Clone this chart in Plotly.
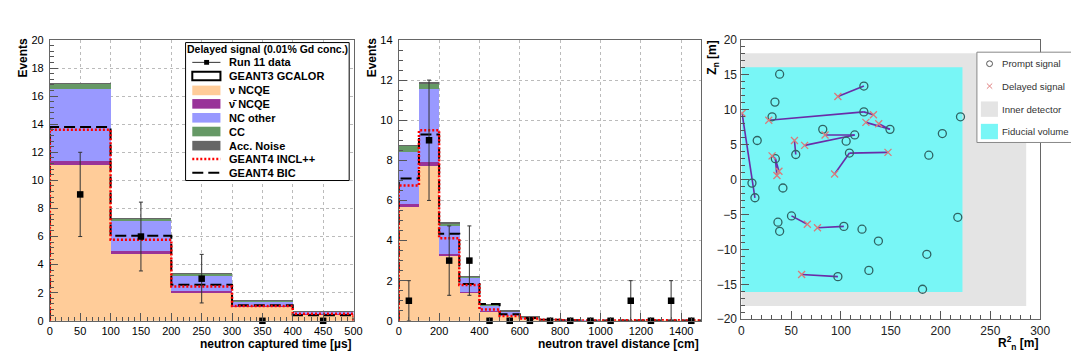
import plotly.graph_objects as go

W, H = 1079, 356
FONT = "Liberation Sans, Arial, sans-serif"

# ---------------- Panel 1 : neutron captured time ----------------
time_edges = [0, 100, 200, 300, 400, 500]
time_centers = [50, 150, 250, 350, 450]
t_nu_ncqe = [11.13, 4.76, 2.03, 1.00, 0.42]
t_nubar_ncqe = [0.23, 0.19, 0.07, 0.04, 0.03]
t_nc_other = [5.13, 2.14, 1.16, 0.37, 0.18]
t_cc = [0.43, 0.21, 0.12, 0.05, 0.03]
t_acc = [0.01, 0.01, 0.01, 0.01, 0.01]
t_incl = [13.60, 5.77, 2.45, 1.05, 0.50]
t_bic = [13.80, 6.05, 2.57, 1.10, 0.40]
t_data = [9, 6, 3, 0, 0]
t_err = [3.0, 2.45, 1.73, 0, 0]

# ---------------- Panel 2 : neutron travel distance ----------------
dist_edges = [0, 100, 200, 300, 400, 500, 600, 700, 800, 900, 1000, 1100, 1200, 1300, 1400, 1500]
dist_centers = [50, 150, 250, 350, 450, 550, 650, 750, 850, 950, 1050, 1150, 1250, 1350, 1450]
d_nu_ncqe = [5.72, 7.74, 3.27, 1.39, 0.46, 0.24, 0.10, 0.04, 0.02, 0.01, 0.01, 0.01, 0.01, 0.01, 0.01]
d_nubar_ncqe = [0.08, 0.16, 0.07, 0.03, 0.02, 0.01, 0.01, 0.00, 0.00, 0.00, 0.00, 0.00, 0.00, 0.00, 0.00]
d_nc_other = [2.61, 3.64, 1.40, 0.76, 0.30, 0.21, 0.07, 0.02, 0.01, 0.01, 0.00, 0.00, 0.00, 0.00, 0.00]
d_cc = [0.34, 0.31, 0.13, 0.04, 0.02, 0.02, 0.01, 0.00, 0.00, 0.00, 0.00, 0.00, 0.00, 0.00, 0.00]
d_acc = [0.01, 0.01, 0.01, 0.01, 0.01, 0.02, 0.01, 0.01, 0.00, 0.00, 0.00, 0.00, 0.00, 0.00, 0.00]
d_incl = [6.74, 9.50, 4.12, 1.79, 0.56, 0.24, 0.12, 0.05, 0.03, 0.02, 0.02, 0.03, 0.03, 0.03, 0.02]
d_bic = [7.09, 9.29, 4.34, 1.83, 0.84, 0.32, 0.14, 0.05, 0.03, 0.02, 0.01, 0.02, 0.02, 0.02, 0.01]
d_data = [1, 9, 3, 3, 0, 0, 0, 0, 0, 0, 0, 1, 0, 1, 0]
d_err = [1.0, 3.0, 1.73, 1.73, 0, 0, 0, 0, 0, 0, 0, 1.0, 0, 1.0, 0]

# ---------------- Panel 3 : event display ----------------
inner_detector = [286.0, 18.1]   # R^2 max, |Z| max
fiducial_volume = [222.0, 16.1]
prompt_r2 = [38.4, 123.0, 33.7, 30.8, 123.0, 220.0, 81.7, 113.8, 149.2, 201.8,
             15.9, 105.2, 54.6, 108.5, 188.2, 34.1, 10.6, 41.7, 13.6, 50.3,
             36.7, 38.4, 102.9, 121.1, 137.6, 217.3, 186.2, 128.0, 96.9, 181.9]
prompt_z = [15.1, 13.4, 11.1, 9.0, 9.7, 9.0, 7.2, 6.4, 7.2, 6.6,
            5.6, 5.5, 3.6, 3.8, 3.5, 3.0, -0.5, -1.2, -2.6, -5.2,
            -6.1, -7.4, -6.7, -7.1, -8.8, -5.4, -10.7, -13.0, -13.9, -15.7]
delayed_r2 = [96.9, 27.5, 132.6, 125.0, 137.9, 0.7, 84.0, 63.5, 53.3, 147.2,
              93.6, 30.8, 37.7, 35.7, 66.2, 76.4, 60.5]
delayed_z = [11.9, 8.5, 9.3, 8.2, 8.0, 9.5, 6.4, 4.9, 5.6, 3.9,
             0.8, 3.4, 1.2, 0.6, -6.4, -6.9, -13.6]
delayed_parent = [1, 4, 4, 8, 8, 18, 7, 7, 12, 13, 13, 15, 15, 15, 19, 22, 28]

C_NU = "#ffcc99"
C_NUBAR = "#993399"
C_NC = "#9999ff"
C_CC = "#669966"
C_ACC = "#666666"
C_CYAN = "#78f6f6"
C_GRAY = "#e4e4e4"


def px(x):
    return x / W


def py(y):
    return 1 - y / H


def step(edges, vals):
    xs = [edges[0]] + list(edges) + [edges[-1]]
    ys = [0] + list(vals) + [vals[-1], 0]
    return xs, ys


fig = go.Figure()

for (xa, ya, centers, edges, comps, incl, bic, data, err) in [
    ("x", "y", time_centers, time_edges,
     [t_nu_ncqe, t_nubar_ncqe, t_nc_other, t_cc, t_acc], t_incl, t_bic, t_data, t_err),
    ("x2", "y2", dist_centers, dist_edges,
     [d_nu_ncqe, d_nubar_ncqe, d_nc_other, d_cc, d_acc], d_incl, d_bic, d_data, d_err),
]:
    for vals, col in zip(comps, [C_NU, C_NUBAR, C_NC, C_CC, C_ACC]):
        fig.add_trace(go.Bar(x=centers, y=vals, width=100, marker=dict(color=col, line=dict(width=0)),
                             xaxis=xa, yaxis=ya, showlegend=False))
    sx, sy = step(edges, bic)
    fig.add_trace(go.Scatter(x=sx, y=sy, mode="lines", line_shape="hv",
                             line=dict(color="black", width=2, dash="11px,5px"),
                             xaxis=xa, yaxis=ya, showlegend=False))
    sx, sy = step(edges, incl)
    fig.add_trace(go.Scatter(x=sx, y=sy, mode="lines", line_shape="hv",
                             line=dict(color="#ff0000", width=2.5, dash="2px,2px"),
                             xaxis=xa, yaxis=ya, showlegend=False))
    fig.add_trace(go.Scatter(x=centers, y=data, mode="markers",
                             marker=dict(symbol="square", size=6.5, color="black"),
                             error_y=dict(type="data", array=err, visible=True, thickness=1,
                                          width=2, color="#333333"),
                             cliponaxis=False, xaxis=xa, yaxis=ya, showlegend=False))

# panel 3 traces
lx, ly = [], []
for r2, z, p in zip(delayed_r2, delayed_z, delayed_parent):
    lx += [prompt_r2[p], r2, None]
    ly += [prompt_z[p], z, None]
fig.add_trace(go.Scatter(x=lx, y=ly, mode="lines", line=dict(color="#6a2ca8", width=1.6),
                         xaxis="x3", yaxis="y3", showlegend=False))
fig.add_trace(go.Scatter(x=prompt_r2, y=prompt_z, mode="markers",
                         marker=dict(symbol="circle-open", size=8, color="#2f6464",
                                     line=dict(width=1.3, color="#2f6464")),
                         xaxis="x3", yaxis="y3", showlegend=False))
fig.add_trace(go.Scatter(x=delayed_r2, y=delayed_z, mode="markers",
                         marker=dict(symbol="x-thin-open", size=7, color="#d97b7b",
                                     line=dict(width=1.3, color="#d97b7b")),
                         xaxis="x3", yaxis="y3", showlegend=False))

shapes = [
    dict(type="rect", xref="x3", yref="y3", x0=0, x1=inner_detector[0],
         y0=-inner_detector[1], y1=inner_detector[1], fillcolor=C_GRAY, line_width=0, layer="below"),
    dict(type="rect", xref="x3", yref="y3", x0=0, x1=fiducial_volume[0],
         y0=-fiducial_volume[1], y1=fiducial_volume[1], fillcolor=C_CYAN, line_width=0, layer="below"),
]
annotations = []

# ---------------- axes ----------------
tickfont = dict(family=FONT, size=11, color="black")
common = dict(showline=True, linecolor="#666666", linewidth=1, mirror=True,
              ticks="inside", ticklen=8, tickcolor="#555555", tickfont=tickfont,
              zeroline=False)
grid = dict(showgrid=True, gridcolor="#bbbbbb", griddash="dot", gridwidth=1)
f3 = dict(family=FONT, size=12, color="#222")

ydom = [py(318.3), py(26)]
layout = dict(
    xaxis=dict(domain=[px(39.3), px(346.7)], range=[0, 500], dtick=50, anchor="y",
               minor=dict(ticks="inside", ticklen=4, dtick=10, tickcolor="#555555"), **common, **grid),
    yaxis=dict(domain=ydom, range=[0, 20], dtick=2, anchor="x", ticklabelstandoff=3,
               minor=dict(ticks="inside", ticklen=4, dtick=0.4, tickcolor="#555555"), **common, **grid),
    xaxis2=dict(domain=[px(392.5), px(698.8)], range=[0, 1500], dtick=200, anchor="y2",
                minor=dict(ticks="inside", ticklen=4, dtick=50, tickcolor="#555555"), **common, **grid),
    yaxis2=dict(domain=ydom, range=[0, 14], dtick=2, anchor="x2", ticklabelstandoff=3,
                minor=dict(ticks="inside", ticklen=4, dtick=0.5, tickcolor="#555555"), **common, **grid),
    xaxis3=dict(domain=[px(739.3), px(1041.7)], range=[0, 300], dtick=50, anchor="y3",
                minor=dict(ticks="inside", ticklen=4, dtick=10, tickcolor="#555555"),
                showgrid=False, **{**common, "tickfont": f3}),
    yaxis3=dict(domain=[py(316.7), py(26)], range=[-20, 20], dtick=5, anchor="x3", ticklabelstandoff=1,
                minor=dict(ticks="inside", ticklen=4, dtick=1, tickcolor="#555555"),
                showgrid=False, **{**common, "tickfont": f3}),
)

# axis titles
def ann(text, x, y, size=12, xanchor="center", yanchor="middle", angle=0, color="black"):
    annotations.append(dict(text=text, x=px(x), y=py(y), xref="paper", yref="paper",
                            xanchor=xanchor, yanchor=yanchor, textangle=angle, showarrow=False,
                            font=dict(family=FONT, size=size, color=color)))

ann("<b>Events</b>", 12.5, 44, size=12, angle=-90)
ann("<b>Events</b>", 365.5, 44, size=12, angle=-90)
ann("<b>Z<sub>n</sub> [m]</b>", 711, 44, size=12, angle=-90)
ann("<b>neutron captured time [µs]</b>", 347, 342, size=12, xanchor="right")
ann("<b>neutron travel distance [cm]</b>", 698, 342, size=12, xanchor="right")
ann("<b>R<sup>2</sup><sub>n</sub> [m]</b>", 1042, 341, size=12, xanchor="right")

# ---------------- legend panel 1 (drawn by hand) ----------------
shapes.append(dict(type="rect", xref="paper", yref="paper", x0=px(176.7), x1=px(342.3),
                   y0=py(172.3), y1=py(28.7), line=dict(color="black", width=1), fillcolor="white"))
ann("<b>Delayed signal (0.01% Gd conc.)</b>", 259.5, 35.5, size=10.5)
sx0, sx1 = 183.5, 212
ent_y = [49.3, 63.5, 78.5, 92.5, 107, 121.3, 136, 150, 164.3]
labels = ["Run 11 data", "GEANT3 GCALOR", "ν NCQE", "ν̄ NCQE", "NC other", "CC",
          "Acc. Noise", "GEANT4 INCL++", "GEANT4 BIC"]
for yy, lab in zip(ent_y, labels):
    ann("<b>" + lab + "</b>", 219, yy, size=11, xanchor="left")
# data entry
shapes.append(dict(type="line", xref="paper", yref="paper", x0=px(sx0), x1=px(sx1),
                   y0=py(ent_y[0]), y1=py(ent_y[0]), line=dict(color="#333", width=1)))
shapes.append(dict(type="rect", xref="paper", yref="paper", x0=px(195.5), x1=px(200.5),
                   y0=py(ent_y[0] + 2.5), y1=py(ent_y[0] - 2.5), fillcolor="black", line_width=0))
# GCALOR
shapes.append(dict(type="rect", xref="paper", yref="paper", x0=px(sx0), x1=px(sx1),
                   y0=py(ent_y[1] + 4.5), y1=py(ent_y[1] - 4.5), fillcolor="white",
                   line=dict(color="black", width=2)))
for yy, col in zip(ent_y[2:7], [C_NU, C_NUBAR, C_NC, C_CC, C_ACC]):
    shapes.append(dict(type="rect", xref="paper", yref="paper", x0=px(sx0), x1=px(sx1),
                       y0=py(yy + 5), y1=py(yy - 5), fillcolor=col, line_width=0))
shapes.append(dict(type="line", xref="paper", yref="paper", x0=px(sx0), x1=px(sx1),
                   y0=py(ent_y[7]), y1=py(ent_y[7]), line=dict(color="#ff0000", width=2.5, dash="2px,2px")))
shapes.append(dict(type="line", xref="paper", yref="paper", x0=px(sx0), x1=px(sx1),
                   y0=py(ent_y[8]), y1=py(ent_y[8]), line=dict(color="black", width=2, dash="11px,5px")))

# ---------------- legend panel 3 (drawn by hand) ----------------
shapes.append(dict(type="rect", xref="paper", yref="paper", x0=px(977.7), x1=px(1076),
                   y0=py(132.7), y1=py(38.7), line=dict(color="#888888", width=1), fillcolor="white"))
l3_y = [50.7, 74, 98, 121.3]
l3_labels = ["Prompt signal", "Delayed signal", "Inner detector", "Fiducial volume"]
for yy, lab in zip(l3_y, l3_labels):
    ann(lab, 1001, yy, size=9.6, xanchor="left", color="#333333")
shapes.append(dict(type="circle", xref="paper", yref="paper", x0=px(987.5), x1=px(993.5),
                   y0=py(l3_y[0] + 3), y1=py(l3_y[0] - 3), line=dict(color="#555555", width=1)))
for d in (1, -1):
    shapes.append(dict(type="line", xref="paper", yref="paper", x0=px(987.8), x1=px(993.2),
                       y0=py(l3_y[1] - 2.7 * d), y1=py(l3_y[1] + 2.7 * d),
                       line=dict(color="#e08080", width=1)))
for yy, col in zip(l3_y[2:], [C_GRAY, C_CYAN]):
    shapes.append(dict(type="rect", xref="paper", yref="paper", x0=px(981.7), x1=px(999),
                       y0=py(yy + 8), y1=py(yy - 8), fillcolor=col, line_width=0))

fig.update_layout(
    width=W, height=H, autosize=False,
    margin=dict(l=0, r=0, t=0, b=0),
    paper_bgcolor="white", plot_bgcolor="white",
    barmode="stack", bargap=0,
    showlegend=False,
    shapes=shapes, annotations=annotations,
    **layout,
)

fig.write_html("out.html")
